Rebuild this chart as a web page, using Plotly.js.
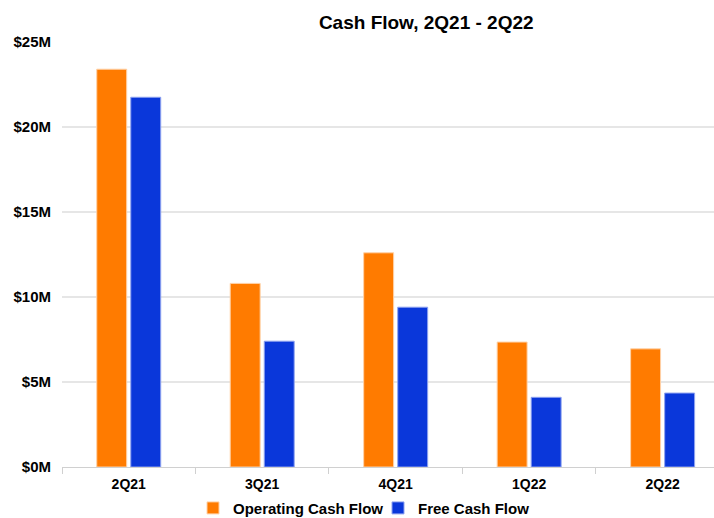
<!DOCTYPE html>
<html><head><meta charset="utf-8">
<script src="https://cdn.plot.ly/plotly-3.0.1.min.js"></script>
<style>html,body{margin:0;padding:0;background:#fff}#c{width:714px;height:518px}</style>
</head><body><div id="c"></div>
<script>
const quarters = ["2Q21","3Q21","4Q21","1Q22","2Q22"];
const operatingCashFlow = [23.4, 10.8, 12.6, 7.35, 6.95];
const freeCashFlow = [21.75, 7.4, 9.4, 4.1, 4.35];
const yTickVals = [0,5,10,15,20,25];
const yTickText = ["$0M","$5M","$10M","$15M","$20M","$25M"];

const font = {family:"Liberation Sans, Arial, sans-serif", color:"#000"};
const traces = [
  {type:"bar", name:"Operating Cash Flow", x:quarters, y:operatingCashFlow,
   marker:{color:"#FF7B00", line:{color:"#FFD2A8", width:1}}, hoverinfo:"y"},
  {type:"bar", name:"Free Cash Flow", x:quarters, y:freeCashFlow,
   marker:{color:"#0A37DA", line:{color:"#8FA3F0", width:1}}, hoverinfo:"y"}
];
const layout = {
  width:714, height:518,
  margin:{l:62, r:0, t:42, b:51},
  paper_bgcolor:"#fff", plot_bgcolor:"#fff",
  title:{text:"<b>Cash Flow, 2Q21 - 2Q22</b>", font:Object.assign({}, font, {size:19}),
         x:0.597, xref:"container", xanchor:"center", y:0.957, yref:"container", yanchor:"middle"},
  barmode:"group", bargap:0.49, bargroupgap:0.12,
  xaxis:{type:"category", range:[-0.5, 4.385], showgrid:false, showline:true, linecolor:"#d0d0d0", linewidth:1,
         ticks:"outside", tickson:"boundaries", ticklen:6, tickcolor:"#d0d0d0", ticklabelstandoff:4,
         tickfont:Object.assign({}, font, {size:14, weight:"bold"}), zeroline:false},
  yaxis:{range:[0,25], tickvals:yTickVals, ticktext:yTickText, showgrid:true, gridcolor:"#e6e6e6", gridwidth:2,
         zeroline:false, showline:false, ticks:"", ticklabelstandoff:10,
         tickfont:Object.assign({}, font, {size:15, weight:"bold"})},
  showlegend:true,
  legend:{orientation:"h", x:193/714, xref:"container", xanchor:"left", y:0.019, yref:"container", yanchor:"middle",
          entrywidth:140, entrywidthmode:"pixels",
          font:Object.assign({}, font, {size:15, weight:"bold"}), itemwidth:30, traceorder:"normal"}
};
Plotly.newPlot("c", traces, layout, {staticPlot:true, displayModeBar:false});
</script></body></html>
